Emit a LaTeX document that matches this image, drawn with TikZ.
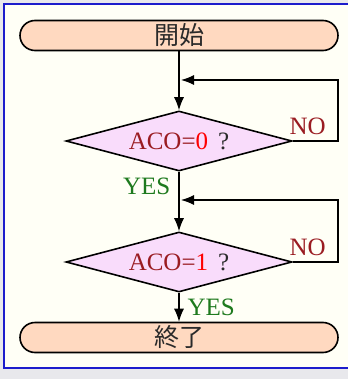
\documentclass[tikz,border=0pt]{standalone}
\usepackage{fontspec}
\setmainfont{Liberation Serif}
\newfontfamily\cjk{Noto Sans CJK JP}
\usetikzlibrary{arrows.meta,shapes.geometric}
\definecolor{pageBg}{HTML}{E8E8EC}
\definecolor{paper}{HTML}{FFFFF6}
\definecolor{frameBlue}{HTML}{1C1CCC}
\definecolor{termFill}{HTML}{FFD9C0}
\definecolor{testFill}{HTML}{F9DCFB}
\definecolor{varRed}{HTML}{9A1C22}
\definecolor{valRed}{HTML}{FF0000}
\definecolor{yesGreen}{HTML}{1E7A1E}
\definecolor{ink}{HTML}{2A2A2A}

\begin{document}
\begin{tikzpicture}[x=1pt,y=-1pt,>=Latex,
  font=\fontsize{25}{29}\selectfont,
  term/.style={draw,line width=1.6pt,fill=termFill,rounded corners=15pt,minimum width=318pt,minimum height=30pt,inner sep=0pt,text=ink,font=\fontsize{25}{29}\selectfont\cjk},
  test/.style={draw,line width=1.6pt,diamond,fill=testFill,shape aspect=3.77,minimum width=226pt,minimum height=60pt,inner sep=0pt},
  flow/.style={-{Latex[length=13pt,width=10pt]},line width=1.2pt},
  yes/.style={text=yesGreen,inner sep=8pt},
  no/.style={text=varRed,above,inner sep=6pt}]
  \useasboundingbox (0,0) rectangle (348,379);
  \fill[pageBg] (0,0) rectangle (348,379);
  \fill[paper] (4,4) rectangle (348,368);
  \draw[frameBlue,line width=1.5pt] (348,4) -- (4,4) -- (4,368) -- (348,368);

  \node[term] (start) at (179,35.5) {開始};
  \node[test] (q0) at (179,141)
    {\textcolor{varRed}{ACO=}\textcolor{valRed}{0}\hspace{0.4em}\textcolor{ink}{?}};
  \node[test] (q1) at (179,262)
    {\textcolor{varRed}{ACO=}\textcolor{valRed}{1}\hspace{0.4em}\textcolor{ink}{?}};
  \node[term] (stop) at (179,337.5) {終了};

  % return points of the two loops
  \coordinate (rail) at (338,0);
  \coordinate (back0) at (181,80);
  \coordinate (back1) at (181,200);

  \draw[flow] (start) -- (q0);
  \draw[flow] (q0) -- node[yes,left,pos=0.25] {YES} (q1);
  \draw[flow] (q1) -- node[yes,right] {YES} (stop);
  \draw[flow] (q0.east) -- node[no,pos=0.33] {NO} (q0.east -| rail) |- (back0);
  \draw[flow] (q1.east) -- node[no,pos=0.33] {NO} (q1.east -| rail) |- (back1);
\end{tikzpicture}
\end{document}
